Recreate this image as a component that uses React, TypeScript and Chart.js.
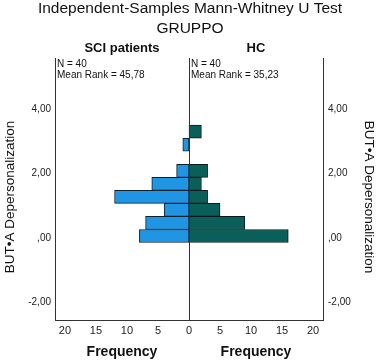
import React, { useEffect, useRef } from "react";
import { Chart, registerables } from "chart.js";

Chart.register(...registerables);

const title = "Independent-Samples Mann-Whitney U Test";
const groupVar = "GRUPPO";
const groups = ["SCI patients", "HC"];
const groupN = ["N = 40", "N = 40"];
const meanRanks = ["Mean Rank = 45,78", "Mean Rank = 35,23"];
const yTitle = "BUT\u2022A Depersonalization";
const xTitle = "Frequency";

// bin centres (BUT-A Depersonalization score)
const sciBins = [0.06, 0.465, 0.87, 1.275, 1.68, 2.085, 2.895];
const sciCounts = [8, 7, 4, 12, 6, 2, 1];
const hcBins = [0.06, 0.465, 0.87, 1.275, 1.68, 2.085, 3.3];
const hcCounts = [16, 9, 5, 3, 2, 3, 2];

const yTicks = [-2, 0, 2, 4];
const xTicks = [-20, -15, -10, -5, 0, 5, 10, 15, 20];

const fmtY = (v: number) => {
  const s = Math.abs(v).toFixed(2).replace(".", ",");
  const t = s.startsWith("0") ? s.slice(1) : s;
  return (v < 0 ? "-" : "") + t;
};

export default function App() {
  const ref = useRef<HTMLCanvasElement>(null);
  useEffect(() => {
    if (!ref.current) return;
    const font = "Arial, 'Liberation Sans', sans-serif";
    const textPlugin = {
      id: "texts",
      afterDraw(chart: any) {
        const ctx = chart.ctx;
        const a = chart.chartArea;
        const xs = chart.scales.x;
        const mid = xs.getPixelForValue(0);
        ctx.save();
        ctx.strokeStyle = "#333";
        ctx.lineWidth = 1;
        ctx.beginPath();
        ctx.moveTo(Math.round(mid) + 0.5, a.top);
        ctx.lineTo(Math.round(mid) + 0.5, a.bottom);
        ctx.stroke();
        ctx.fillStyle = "#111";
        ctx.textAlign = "center";
        ctx.textBaseline = "middle";
        ctx.font = `15.5px ${font}`;
        ctx.fillText(title, 190, 9);
        ctx.fillText(groupVar, 190, 29);
        ctx.font = `bold 13px ${font}`;
        const lc = (a.left + mid) / 2;
        const rc = (mid + a.right) / 2;
        ctx.fillText(groups[0], lc, 48);
        ctx.fillText(groups[1], rc, 48);
        ctx.font = `bold 14px ${font}`;
        ctx.fillText(xTitle, lc, 352);
        ctx.fillText(xTitle, rc, 352);
        ctx.font = `10px ${font}`;
        ctx.textAlign = "left";
        ctx.fillText(groupN[0], a.left + 2, 64);
        ctx.fillText(meanRanks[0], a.left + 2, 75);
        ctx.fillText(groupN[1], mid + 2, 64);
        ctx.fillText(meanRanks[1], mid + 2, 75);
        const yc = (a.top + a.bottom) / 2 + 8;
        ctx.font = `13.5px ${font}`;
        ctx.textAlign = "center";
        ctx.save();
        ctx.translate(10, yc);
        ctx.rotate(-Math.PI / 2);
        ctx.fillText(yTitle, 0, 0);
        ctx.restore();
        ctx.save();
        ctx.translate(369, yc);
        ctx.rotate(Math.PI / 2);
        ctx.fillText(yTitle, 0, 0);
        ctx.restore();
        ctx.restore();
      },
    };
    const yScale = (position: string, width: number, padding: number) => ({
      type: "linear",
      position,
      min: -2.55,
      max: 5.59,
      offset: false,
      bounds: "data",
      grace: 0,
      afterBuildTicks: (s: any) => {
        s.ticks = yTicks.map((v) => ({ value: v }));
      },
      afterFit: (s: any) => {
        s.width = width;
      },
      ticks: {
        callback: (v: any) => fmtY(Number(v)),
        color: "#222",
        font: { size: 10, family: font },
        padding,
      },
      grid: { display: false, drawTicks: false, offset: false },
      border: { display: true, color: "#333" },
    });
    const chart = new Chart(ref.current, {
      type: "bar",
      data: {
        datasets: [
          {
            label: groups[0],
            data: sciBins.map((b, i) => ({ y: b, x: -sciCounts[i] })),
            backgroundColor: "#1f95e4",
            borderColor: "#10202c",
            borderWidth: 1,
            borderSkipped: false,
          },
          {
            label: groups[1],
            data: hcBins.map((b, i) => ({ y: b, x: hcCounts[i] })),
            backgroundColor: "#0b5f5a",
            borderColor: "#0a1a1a",
            borderWidth: 1,
            borderSkipped: false,
          },
        ],
      },
      options: {
        indexAxis: "y",
        animation: false,
        responsive: false,
        grouped: false,
        barPercentage: 1,
        categoryPercentage: 1,
        layout: { padding: { top: 58, left: 0, right: 0, bottom: 0 } },
        plugins: { legend: { display: false }, tooltip: { enabled: false } },
        scales: {
          x: {
            type: "linear",
            min: -21.6,
            max: 21.6,
            afterBuildTicks: (s: any) => {
              s.ticks = xTicks.map((v) => ({ value: v }));
            },
            afterFit: (s: any) => {
              s.height = 40;
            },
            ticks: {
              callback: (v: any) => String(Math.abs(Number(v))),
              color: "#222",
              font: { size: 11, family: font },
              padding: 4,
            },
            grid: { display: false, drawTicks: false },
            border: { display: true, color: "#333" },
          },
          y: yScale("left", 55, 4),
          y2: yScale("right", 57, 5),
        },
      } as any,
      plugins: [textPlugin],
    });
    return () => chart.destroy();
  }, []);
  return (
    <div style={{ position: "fixed", left: 0, top: 0, width: 380, height: 360, background: "#fff" }}>
      <canvas ref={ref} width={380} height={360} />
    </div>
  );
}
